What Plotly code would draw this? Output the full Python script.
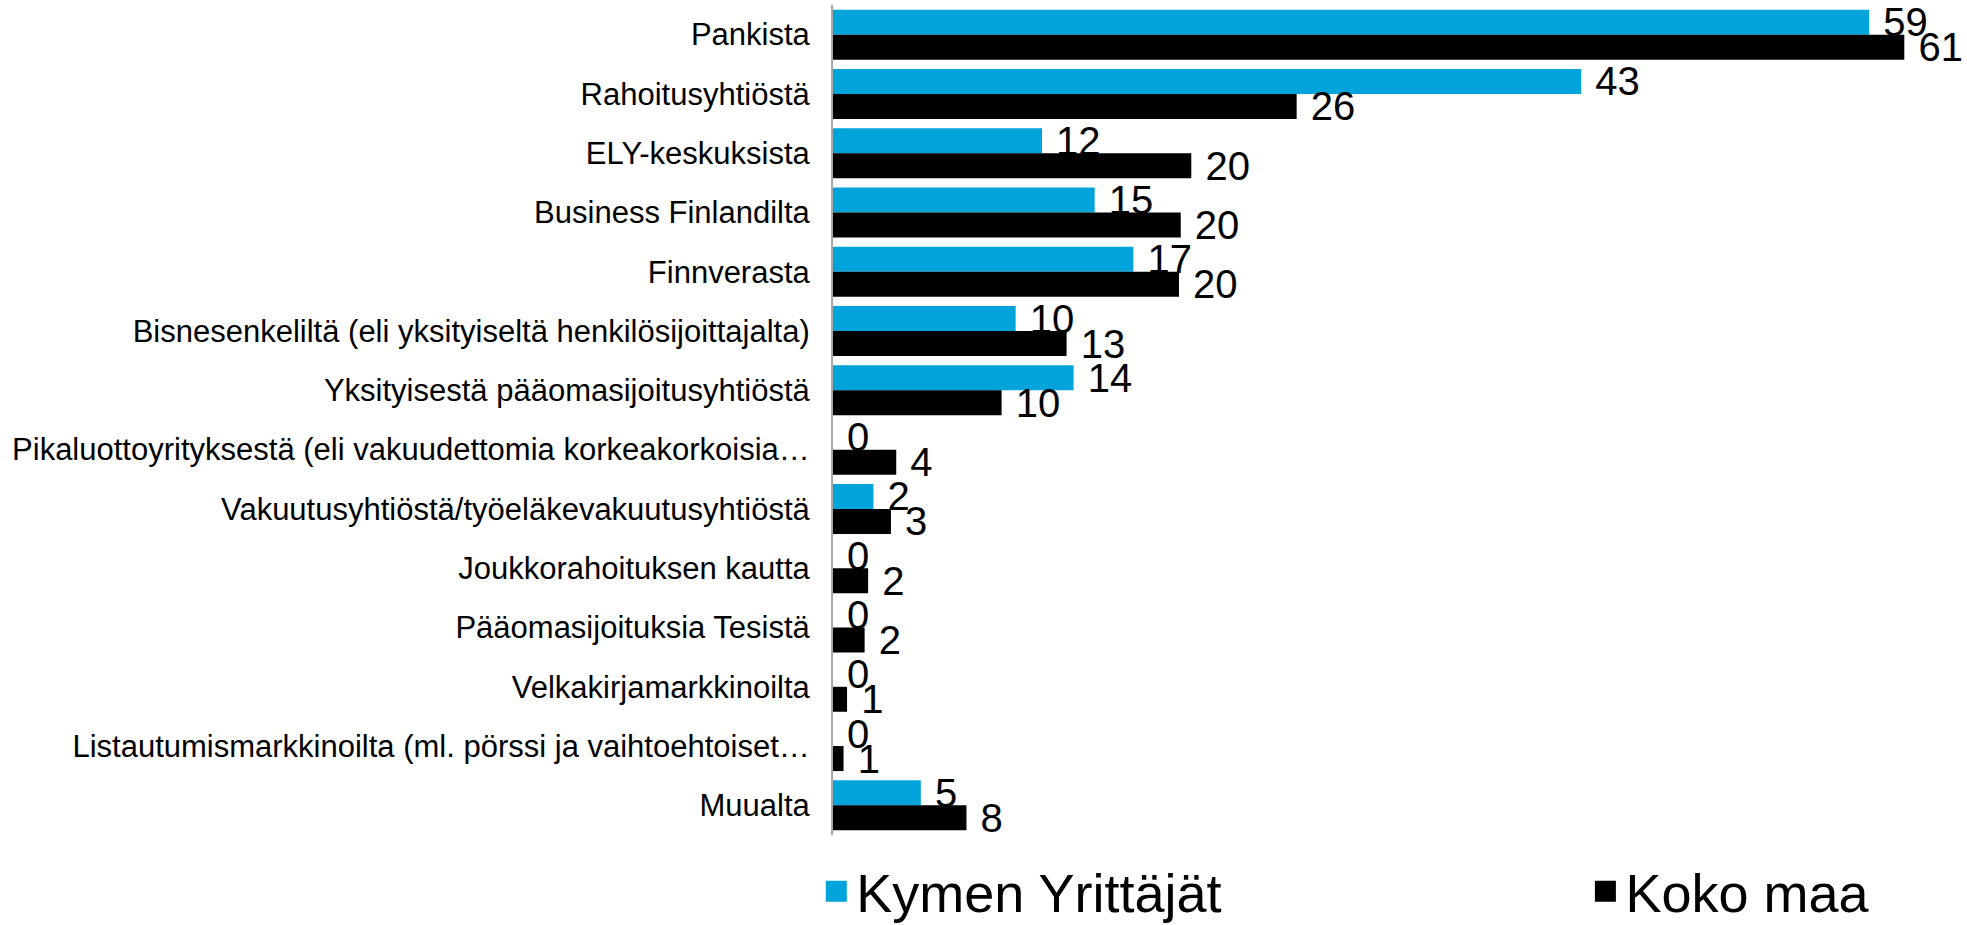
import plotly.graph_objects as go

categories = [
    "Pankista",
    "Rahoitusyhtiöstä",
    "ELY-keskuksista",
    "Business Finlandilta",
    "Finnverasta",
    "Bisnesenkeliltä (eli yksityiseltä henkilösijoittajalta)",
    "Yksityisestä pääomasijoitusyhtiöstä",
    "Pikaluottoyrityksestä (eli vakuudettomia korkeakorkoisia…",
    "Vakuutusyhtiöstä/työeläkevakuutusyhtiöstä",
    "Joukkorahoituksen kautta",
    "Pääomasijoituksia Tesistä",
    "Velkakirjamarkkinoilta",
    "Listautumismarkkinoilta (ml. pörssi ja vaihtoehtoiset…",
    "Muualta",
]
kymen = [59.0, 42.6, 11.9, 14.9, 17.1, 10.4, 13.7, 0.0, 2.3, 0.0, 0.0, 0.0, 0.0, 5.0]
koko_maa = [61.0, 26.4, 20.4, 19.8, 19.7, 13.3, 9.6, 3.6, 3.3, 2.0, 1.8, 0.8, 0.6, 7.6]

series_names = ["Kymen Yrittäjät", "Koko maa"]
series_colors = ["#00A3DA", "#000000"]
legend_ids = ["legend", "legend2"]

FONT = "Liberation Sans, Arial, sans-serif"

fig = go.Figure()
for name, vals, col, lg in zip(series_names, [kymen, koko_maa], series_colors, legend_ids):
    fig.add_trace(go.Bar(
        y=categories, x=vals, name=name, orientation="h",
        marker=dict(color=col, line=dict(width=0)),
        text=vals, texttemplate="\u00a0%{x:.0f}", textposition="outside",
        constraintext="none", cliponaxis=False,
        textfont=dict(family=FONT, size=40, color="#000000"),
        showlegend=False, hoverinfo="x+y",
    ))
    # legend entry with a larger square swatch
    fig.add_trace(go.Scatter(
        x=[None], y=[None], mode="markers", name=name, legend=lg,
        marker=dict(symbol="square", size=16, color=col, line=dict(color=col, width=5)),
        showlegend=True,
    ))

legend_common = dict(
    orientation="h", xref="container", yref="container",
    xanchor="left", y=0.036, yanchor="middle",
    font=dict(family=FONT, size=54, color="#000000"),
    itemwidth=30, bgcolor="rgba(0,0,0,0)",
)

n_cat = len(categories)
fig.update_layout(
    width=1967, height=925,
    margin=dict(l=833, r=10, t=5, b=90, autoexpand=False),
    paper_bgcolor="white", plot_bgcolor="white",
    barmode="group", bargap=0.157, bargroupgap=0,
    font=dict(family=FONT, color="#000000"),
    showlegend=True,
    legend=dict(x=0.415, **legend_common),
    legend2=dict(x=0.806, **legend_common),
)
fig.update_xaxes(range=[0, 64], showgrid=False, zeroline=False, showline=False,
                 showticklabels=False, ticks="", automargin=False)
fig.update_yaxes(range=[n_cat - 0.5, -0.5], showgrid=False, zeroline=False,
                 showline=True, linecolor="#A6A6A6", linewidth=2, ticks="",
                 ticklabelstandoff=15, automargin=False,
                 tickfont=dict(family=FONT, size=31, color="#000000"))

fig.write_html("out.html", config={"displayModeBar": False},
               post_script="document.body.style.margin='0px';")
